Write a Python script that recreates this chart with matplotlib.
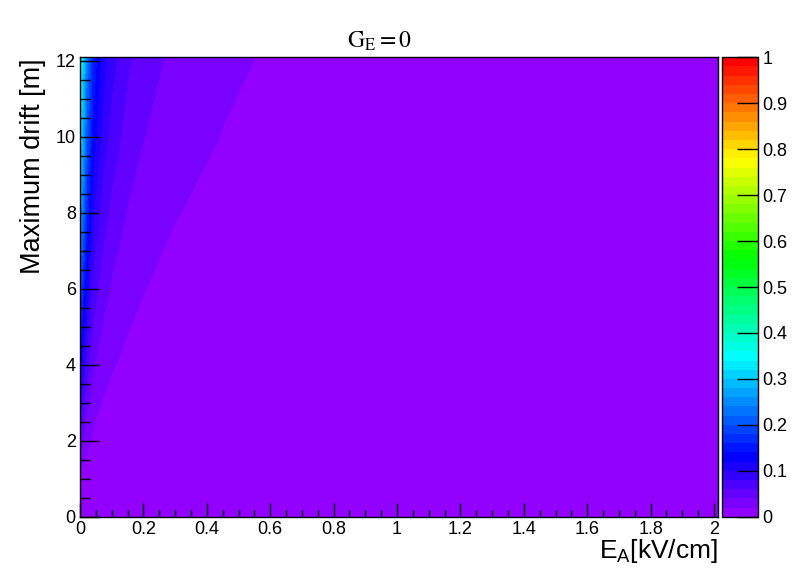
import colorsys
import numpy as np
import matplotlib
matplotlib.use('Agg')
import matplotlib.pyplot as plt
from matplotlib.ticker import MultipleLocator, FormatStrFormatter

plt.rcParams['font.family'] = ['Liberation Sans', 'DejaVu Sans']
plt.rcParams['mathtext.fontset'] = 'custom'
plt.rcParams['mathtext.rm'] = 'Liberation Sans'

# values (coarse grid, contours interpolate between)
field = np.array([0, 0.01, 0.02, 0.04, 0.07, 0.1, 0.15, 0.2, 0.3, 0.45, 0.6, 0.9, 1.3, 2.0125])
drift = np.array([0, 1, 2, 3, 4, 6, 8, 10, 12.1])
frac = np.array([
    [0, 0, 0, 0, 0, 0, 0, 0, 0, 0, 0, 0, 0, 0],
    [0.015, 0.0075, 0.005, 0.003, 0.0019, 0.0014, 0.0009, 0.0007, 0.0005, 0.0003, 0.0002, 0.0002, 0.0001, 0.0001],
    [0.05, 0.036, 0.027, 0.0167, 0.0111, 0.0083, 0.0059, 0.0045, 0.0031, 0.0021, 0.0016, 0.0011, 0.0008, 0.0005],
    [0.09, 0.065, 0.048, 0.029, 0.0192, 0.0144, 0.0101, 0.0078, 0.0054, 0.0036, 0.0028, 0.0019, 0.0013, 0.0008],
    [0.13, 0.097, 0.072, 0.0433, 0.0289, 0.0217, 0.0153, 0.0118, 0.0081, 0.0055, 0.0042, 0.0028, 0.002, 0.0013],
    [0.2, 0.155, 0.118, 0.073, 0.0495, 0.0374, 0.0266, 0.0206, 0.0142, 0.0097, 0.0074, 0.005, 0.0035, 0.0023],
    [0.27, 0.22, 0.168, 0.1038, 0.0711, 0.054, 0.0386, 0.03, 0.0208, 0.0142, 0.0108, 0.0073, 0.0051, 0.0033],
    [0.32, 0.27, 0.21, 0.1345, 0.0937, 0.0719, 0.0518, 0.0405, 0.0282, 0.0194, 0.0148, 0.01, 0.007, 0.0045],
    [0.36, 0.305, 0.24, 0.16, 0.1129, 0.0873, 0.0633, 0.0497, 0.0347, 0.0239, 0.0182, 0.0124, 0.0086, 0.0057],
])

# ROOT "pretty" palette: 50 colours, violet -> red
ncol = 50
palette = [colorsys.hls_to_rgb((280 - (i + 1) * 280 / ncol) / 360, 0.5, 1) for i in range(ncol)]
levels = np.linspace(0, 1, ncol + 1)

fig = plt.figure(figsize=(7.98, 5.74), dpi=100)
ax = fig.add_axes([80 / 798, 1 - 516.7 / 574, 638 / 798, 459.4 / 574])
cax = fig.add_axes([722 / 798, 1 - 516.7 / 574, 36 / 798, 459.4 / 574])

cs = ax.contourf(field, drift, frac, levels=levels, colors=palette)
ax.set_xlim(0, 2.0125)
ax.set_ylim(0, 12.09)

ax.xaxis.set_major_locator(MultipleLocator(0.2))
ax.xaxis.set_minor_locator(MultipleLocator(0.05))
ax.yaxis.set_major_locator(MultipleLocator(2))
ax.yaxis.set_minor_locator(MultipleLocator(0.5))
ax.xaxis.set_major_formatter(FormatStrFormatter('%g'))
ax.yaxis.set_major_formatter(FormatStrFormatter('%g'))
ax.tick_params(which='both', direction='in', top=False, right=False, labelsize=13, width=1)
ax.tick_params(axis='x', which='major', length=10, pad=3)
ax.tick_params(axis='x', which='minor', length=5)
ax.tick_params(axis='y', which='major', length=13.5, pad=3)
ax.tick_params(axis='y', which='minor', length=7)
for s in ax.spines.values():
    s.set_linewidth(1)

cb = fig.colorbar(cs, cax=cax, ticks=np.linspace(0, 1, 11))
cax.yaxis.set_major_formatter(FormatStrFormatter('%g'))
cax.tick_params(which='both', direction='in', length=15, width=1, labelsize=13, pad=3)
cax.minorticks_off()
cb.outline.set_linewidth(1)

fig.text(379 / 798, 1 - 48 / 574, r'$\mathrm{G_E = 0}$', ha='center', va='baseline',
         fontsize=17, math_fontfamily='stix')
fig.text(718 / 798, 1 - 558 / 574, r'$\mathrm{E_A[kV/cm]}$', ha='right', va='baseline', fontsize=19)
fig.text(33 / 798, 1 - 58 / 574, 'Maximum drift [m]', rotation=90, ha='center', va='top', fontsize=19.5)

fig.savefig('out.png', dpi=100)
